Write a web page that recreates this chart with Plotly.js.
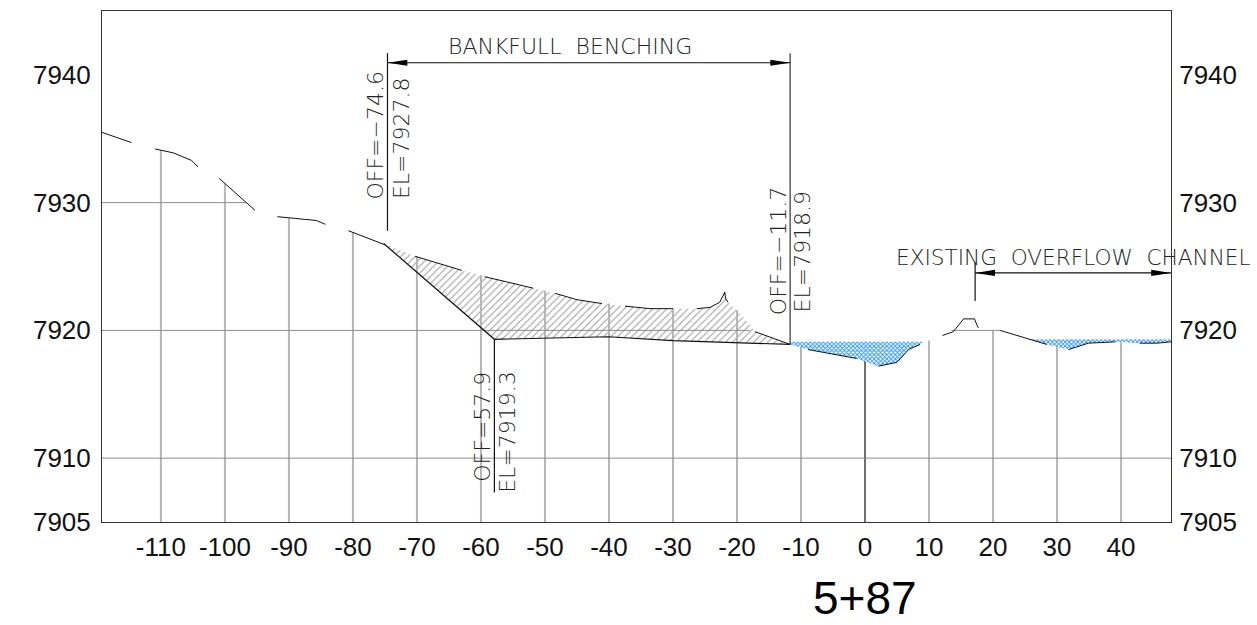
<!DOCTYPE html>
<html><head><meta charset="utf-8">
<script src="https://cdn.plot.ly/plotly-3.0.1.min.js"></script>
<style>html,body{margin:0;padding:0;background:#fff}
</style></head><body><div id="c" style="width:1257px;height:625px"></div>
<script>
const xTicks=[-110,-100,-90,-80,-70,-60,-50,-40,-30,-20,-10,0,10,20,30,40];
const yTicks=[7905,7910,7920,7930,7940];
const stakeTops=[7934.1,7931.5,7928.8,7927.7,7925.8,7924.3,7923.1,7922.1,7921.7,7921.6,7918.8,7919.1,7919.2,7920,7919.3,7919.2];
const groundX=[-119.2,-114.6,null,-110.9,-108.1,-105.2,-104.2,null,-100.9,-95.3,null,-91.8,-85.7,-84.3,null,-80.7,-75,null,-70.3,-64.6,-63,null,-59.4,-57,-51.8,null,-48.4,-45,-41.1,null,-37.5,-33.6,-30,null,-26.3,-24.2,-22.7,-21.9,-21.8,-21.4,null,-17.2,-11.7,null,-8.9,-1.3,null,2.1,5,6.8,8.6,null,12.1,13.8,15.4,17.1,17.5,17.7,null,21.1,25.5,28.4,null,31.8,34.9,39.1,null,42.9,45.6,47.8];
const groundY=[7935.5,7934.7,null,7934.2,7933.9,7933.3,7932.8,null,7931.9,7929.4,null,7928.9,7928.6,7928.3,null,7927.8,7926.7,null,7925.8,7924.9,7924.7,null,7924.2,7923.9,7923.3,null,7922.9,7922.4,7922.1,null,7921.9,7921.7,7921.7,null,7921.7,7921.8,7922.2,7923,7922.5,7922.2,null,7919.9,7918.9,null,7918.5,7917.8,null,7917.2,7917.5,7918.5,7918.9,null,7919.6,7919.9,7920.9,7920.9,7920.4,7920.2,null,7920,7919.3,7918.9,null,7918.5,7919,7919.1,null,7919,7919,7919.1];
const cutX=[-75.2,-57.9,-40.1,-30,-11.7];
const cutY=[7926.8,7919.3,7919.5,7919.2,7918.9];
const hatchX=[-75.2,-70.3,-64.6,-63,-59.4,-57,-51.8,-48.4,-45,-41.1,-37.5,-33.6,-30,-26.3,-24.2,-22.7,-21.9,-21.4,-18.75,-17.2,-11.7,-30,-40.1,-57.9,-75.2];
const hatchY=[7926.8,7925.8,7924.9,7924.7,7924.2,7923.9,7923.3,7922.9,7922.4,7922.1,7921.9,7921.7,7921.7,7921.7,7921.8,7922.2,7923,7922.2,7920.9,7919.9,7918.9,7919.2,7919.5,7919.3,7926.8];
const waterAX=[-11.7,9.1,8.6,6.8,5,2.1,-1.3,-8.9,-11.7];
const waterAY=[7919.1,7919.1,7918.9,7918.5,7917.5,7917.2,7917.8,7918.5,7918.9];
const waterBX=[25.5,47.8,47.8,45.6,42.9,39.1,34.9,31.8,28.4,25.5];
const waterBY=[7919.3,7919.3,7919.1,7919,7919,7919.1,7919,7918.5,7918.9,7919.3];
const gridH=[[-119.2,-96.6,7930],[-119.2,-18,7920],[13.5,21.1,7920],[-119.2,47.8,7910]];
const dimV=[[-74.6,7941.7,7927.8],[-11.7,7941.7,7918.9],[-57.9,7919.3,7907.3],[17.2,7925.3,7922.3]];
const dimH=[[-74.6,-11.7,7940.95],[17.2,47.8,7924.5]];
const labels=[
 {t:'BANKFULL  BENCHING',x:-46.1,y:7942.2,a:0,s:22},
 {t:'EXISTING  OVERFLOW  CHANNEL',x:32.5,y:7925.7,a:0,s:21.6},
 {t:'OFF=−74.6',x:-76.4,y:7935.25,a:-90,s:22},
 {t:'EL=7927.8',x:-72.5,y:7935.05,a:-90,s:22},
 {t:'OFF=−11.7',x:-13.6,y:7926.2,a:-90,s:22},
 {t:'EL=7918.9',x:-9.8,y:7926.2,a:-90,s:22},
 {t:'OFF=57.9',x:-59.7,y:7912.45,a:-90,s:22},
 {t:'EL=7919.3',x:-55.8,y:7912.05,a:-90,s:22}];
const stationLabel='5+87';

const traces=[];
const line=(x,y,color,width)=>({x,y,mode:'lines',line:{color,width},hoverinfo:'skip',showlegend:false,connectgaps:false});
traces.push({x:hatchX,y:hatchY,mode:'lines',line:{width:0},fill:'toself',fillcolor:'rgba(0,0,0,0)',fillpattern:{shape:'/',fgcolor:'#999',bgcolor:'#fff',size:5,solidity:0.2},hoverinfo:'skip',showlegend:false});
xTicks.forEach((v,i)=>{traces.push(line([v,v],[7905,stakeTops[i]],v===0?'#707070':'#b5b5b5',2));});
gridH.forEach(g=>traces.push(line([g[0],g[1]],[g[2],g[2]],'#8c8c8c',1)));
[[waterAX,waterAY],[waterBX,waterBY]].forEach(w=>traces.push({x:w[0],y:w[1],mode:'lines',line:{width:0},fill:'toself',fillcolor:'rgba(0,0,0,0)',fillpattern:{shape:'x',fgcolor:'#1f8fff',bgcolor:'#fff',size:3,solidity:0.5},hoverinfo:'skip',showlegend:false}));
traces.push(line(groundX,groundY,'#111',1));
traces.push(line(cutX,cutY,'#111',1.2));
dimV.forEach((d,i)=>traces.push(line([d[0],d[0]],[d[1],d[2]],i===1?'#333':'#111',1.2)));
dimH.forEach(d=>{
 traces.push(line([d[0],d[1]],[d[2],d[2]],'#111',1.2));
 const L=3.1,h=0.24;
 traces.push({x:[d[0],d[0]+L,d[0]+L,d[0]],y:[d[2],d[2]+h,d[2]-h,d[2]],mode:'lines',line:{width:0},fill:'toself',fillcolor:'#000',hoverinfo:'skip',showlegend:false});
 traces.push({x:[d[1],d[1]-L,d[1]-L,d[1]],y:[d[2],d[2]+h,d[2]-h,d[2]],mode:'lines',line:{width:0},fill:'toself',fillcolor:'#000',hoverinfo:'skip',showlegend:false});
});
traces.push({x:[47.8],y:[7905],yaxis:'y2',mode:'markers',marker:{opacity:0,size:1},hoverinfo:'skip',showlegend:false});

const tickFont={family:'"Liberation Sans",Arial,sans-serif',size:26,color:'#111'};
const cadFam='"DejaVu Sans ExtraLight","DejaVu Sans Light","Liberation Sans",sans-serif';
const layout={
 width:1257,height:625,margin:{l:102,r:86,t:11,b:103,pad:0},paper_bgcolor:'#fff',plot_bgcolor:'#fff',showlegend:false,
 xaxis:{range:[-119.2,47.8],tickvals:xTicks,ticktext:xTicks.map(String),tickfont:tickFont,ticks:'outside',ticklen:2,tickcolor:'rgba(0,0,0,0)',showgrid:false,zeroline:false,showline:true,mirror:true,linecolor:'#333',linewidth:1},
 yaxis:{range:[7905,7945],tickvals:yTicks,ticktext:yTicks.map(String),tickfont:tickFont,ticks:'outside',ticklen:5,tickcolor:'rgba(0,0,0,0)',showgrid:false,zeroline:false,showline:true,mirror:true,linecolor:'#333',linewidth:1},
 yaxis2:{range:[7905,7945],overlaying:'y',side:'right',tickvals:yTicks,ticktext:yTicks.map(String),tickfont:tickFont,ticks:'outside',ticklen:2,tickcolor:'rgba(0,0,0,0)',showgrid:false,zeroline:false,showline:false},
 annotations:labels.map(l=>({text:l.t,x:l.x,y:l.y,xref:'x',yref:'y',textangle:l.a,showarrow:false,xanchor:'center',yanchor:'middle',font:{family:cadFam,size:l.s,color:'#222'},borderpad:0,captureevents:false})).concat([
  {text:stationLabel,x:0,xref:'x',y:-0.149,yref:'paper',showarrow:false,xanchor:'center',yanchor:'middle',font:{family:tickFont.family,size:46,color:'#000'}}])
};
Plotly.newPlot('c',traces,layout,{displayModeBar:false,staticPlot:true});
</script></body></html>
